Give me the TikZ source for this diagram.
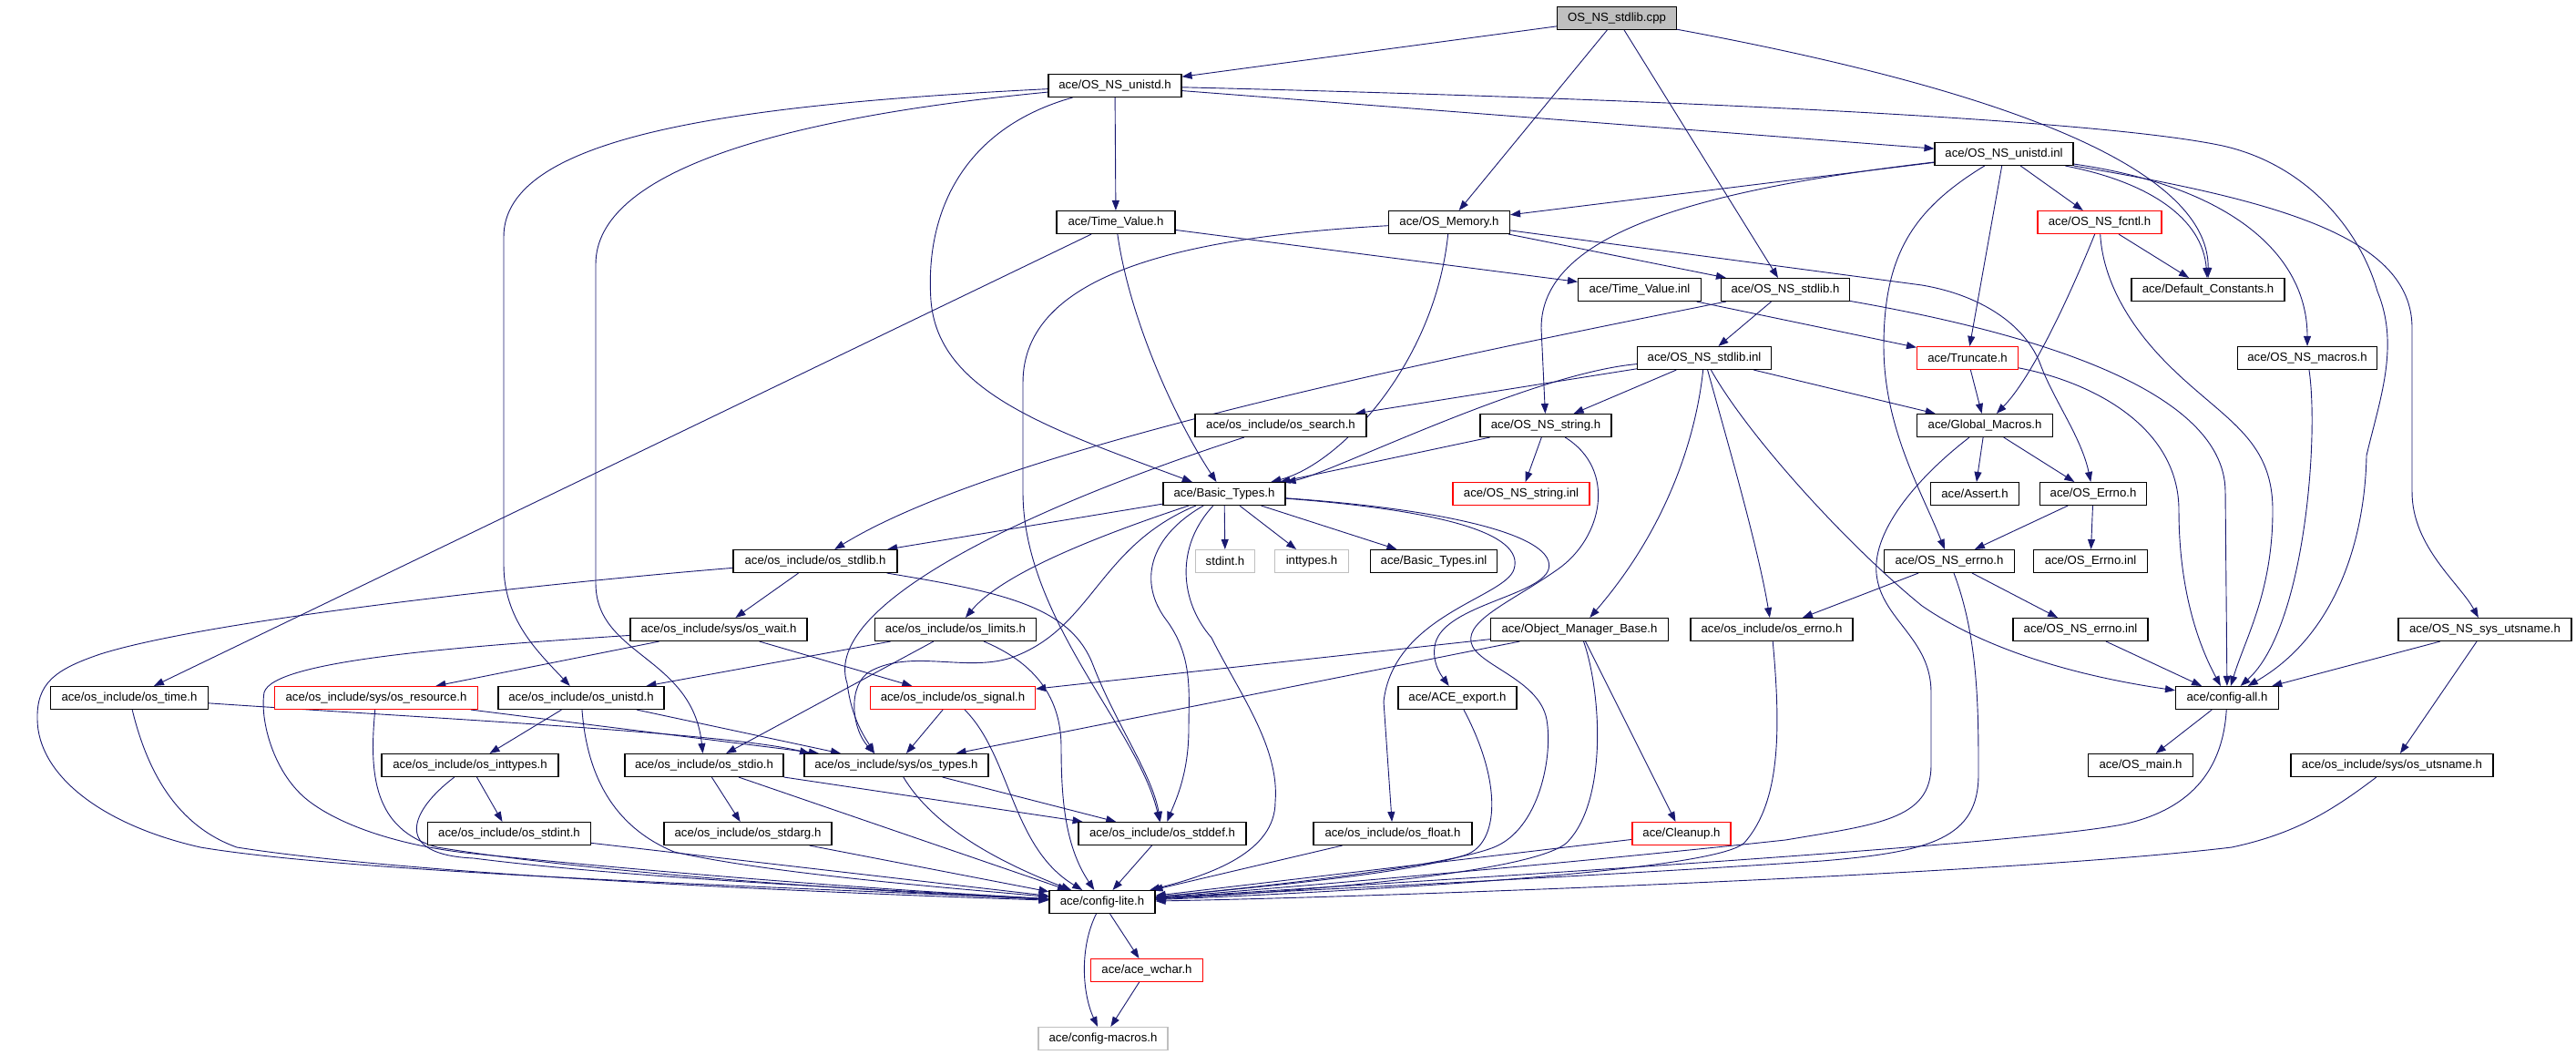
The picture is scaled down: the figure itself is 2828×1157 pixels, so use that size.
\documentclass[tikz,border=0pt]{standalone}
\usepackage{fontspec}
\setmainfont{Liberation Sans}
\usetikzlibrary{arrows.meta,backgrounds}
\definecolor{edgeblue}{HTML}{191970}
\definecolor{gbox}{HTML}{BFBFBF}
\begin{document}
\begin{tikzpicture}[x=1pt,y=-1pt,
  filebox/.style={draw=black,line width=1.1pt,minimum height=25pt,inner sep=0pt,fill=white,font=\fontsize{13.2pt}{15pt}\selectfont},
  redbox/.style={filebox,draw=red},
  graybox/.style={filebox,draw=gbox},
  dep/.style={draw=edgeblue,line width=0.9pt,-{Triangle[length=11pt,width=8pt]}}]
\useasboundingbox (0,0) rectangle (2828,1157);
% ---------- nodes ----------
\node[filebox,fill=gbox,minimum width=131pt] (cpp) at (1775,20) {OS\_NS\_stdlib.cpp};
\node[filebox,minimum width=146pt] (unih) at (1224,94) {ace/OS\_NS\_unistd.h};
\node[filebox,minimum width=152pt] (uniinl) at (2200,169) {ace/OS\_NS\_unistd.inl};
\node[filebox,minimum width=130pt] (tvh) at (1225,244) {ace/Time\_Value.h};
\node[filebox,minimum width=133pt] (mem) at (1591,244) {ace/OS\_Memory.h};
\node[redbox,minimum width=136pt] (fcntl) at (2305,244) {ace/OS\_NS\_fcntl.h};
\node[filebox,minimum width=135pt] (tvinl) at (1800,318) {ace/Time\_Value.inl};
\node[filebox,minimum width=141pt] (stdlibh) at (1960,318) {ace/OS\_NS\_stdlib.h};
\node[filebox,minimum width=168pt] (defc) at (2424,318) {ace/Default\_Constants.h};
\node[filebox,minimum width=147pt] (stdlibinl) at (1871,393) {ace/OS\_NS\_stdlib.inl};
\node[redbox,minimum width=111pt] (trunc) at (2160,393) {ace/Truncate.h};
\node[filebox,minimum width=153pt] (macros) at (2533,393) {ace/OS\_NS\_macros.h};
\node[filebox,minimum width=188pt] (search) at (1406,467) {ace/os\_include/os\_search.h};
\node[filebox,minimum width=144pt] (strh) at (1697,467) {ace/OS\_NS\_string.h};
\node[filebox,minimum width=149pt] (glob) at (2179,467) {ace/Global\_Macros.h};
\node[filebox,minimum width=134pt] (bt) at (1344,542) {ace/Basic\_Types.h};
\node[redbox,minimum width=150pt] (strinl) at (1670,542) {ace/OS\_NS\_string.inl};
\node[filebox,minimum width=97pt] (assert) at (2168,542) {ace/Assert.h};
\node[filebox,minimum width=117pt] (errnoh) at (2298,542) {ace/OS\_Errno.h};
\node[filebox,minimum width=180pt] (osstdlib) at (895,616) {ace/os\_include/os\_stdlib.h};
\node[graybox,minimum width=65pt] (stdint) at (1345,616) {stdint.h};
\node[graybox,minimum width=81pt] (inttypes) at (1440,616) {inttypes.h};
\node[filebox,minimum width=139pt] (btinl) at (1574,616) {ace/Basic\_Types.inl};
\node[filebox,minimum width=143pt] (nserrno) at (2140,616) {ace/OS\_NS\_errno.h};
\node[filebox,minimum width=125pt] (errnoinl) at (2295,616) {ace/OS\_Errno.inl};
\node[filebox,minimum width=194pt] (wait) at (789,691) {ace/os\_include/sys/os\_wait.h};
\node[filebox,minimum width=177pt] (limits) at (1049,691) {ace/os\_include/os\_limits.h};
\node[filebox,minimum width=195pt] (omb) at (1734,691) {ace/Object\_Manager\_Base.h};
\node[filebox,minimum width=178pt] (oserrno) at (1945,691) {ace/os\_include/os\_errno.h};
\node[filebox,minimum width=148pt] (nserrnoinl) at (2284,691) {ace/OS\_NS\_errno.inl};
\node[filebox,minimum width=190pt] (nsuts) at (2728,691) {ace/OS\_NS\_sys\_utsname.h};
\node[filebox,minimum width=173pt] (ostime) at (142,766) {ace/os\_include/os\_time.h};
\node[redbox,minimum width=223pt] (resource) at (413,766) {ace/os\_include/sys/os\_resource.h};
\node[filebox,minimum width=182pt] (osunistd) at (638,766) {ace/os\_include/os\_unistd.h};
\node[redbox,minimum width=181pt] (signal) at (1046,766) {ace/os\_include/os\_signal.h};
\node[filebox,minimum width=130pt] (export) at (1600,766) {ace/ACE\_export.h};
\node[filebox,minimum width=113pt] (cfgall) at (2445,766) {ace/config-all.h};
\node[filebox,minimum width=194pt] (inttypesh) at (516,840) {ace/os\_include/os\_inttypes.h};
\node[filebox,minimum width=174pt] (stdio) at (773,840) {ace/os\_include/os\_stdio.h};
\node[filebox,minimum width=202pt] (types) at (984,840) {ace/os\_include/sys/os\_types.h};
\node[filebox,minimum width=115pt] (osmain) at (2350,840) {ace/OS\_main.h};
\node[filebox,minimum width=222pt] (uts) at (2626,840) {ace/os\_include/sys/os\_utsname.h};
\node[filebox,minimum width=179pt] (stdinth) at (559,915) {ace/os\_include/os\_stdint.h};
\node[filebox,minimum width=184pt] (stdarg) at (821,915) {ace/os\_include/os\_stdarg.h};
\node[filebox,minimum width=184pt] (stddef) at (1276,915) {ace/os\_include/os\_stddef.h};
\node[filebox,minimum width=174pt] (float) at (1529,915) {ace/os\_include/os\_float.h};
\node[redbox,minimum width=108pt] (cleanup) at (1846,915) {ace/Cleanup.h};
\node[filebox,minimum width=116pt] (lite) at (1210,990) {ace/config-lite.h};
\node[redbox,minimum width=123pt] (wchar) at (1259,1065) {ace/ace\_wchar.h};
\node[graybox,minimum width=142pt] (macrosh) at (1211,1140) {ace/config-macros.h};
% ---------- edges ----------
\begin{pgfonlayer}{background}
\draw[dep] (cpp) -- (unih);
\draw[dep] (cpp) -- (mem);
\draw[dep] (cpp) -- (stdlibh);
\draw[dep] (cpp) .. controls (2260,110) and (2425,200) .. (defc);
\draw[dep] (unih) -- (uniinl);
\draw[dep] (unih) .. controls (1800,108) and (2300,130) .. (2440,160) .. controls (2530,180) and (2590,250) .. (2610,320) .. controls (2635,380) and (2612,440) .. (2598,500) .. controls (2596,600) and (2560,700) .. (cfgall);
\draw[dep] (unih) -- (tvh);
\draw[dep] (unih) .. controls (1060,140) and (1015,230) .. (1022,330) .. controls (1030,430) and (1150,470) .. (bt);
\draw[dep] (unih) .. controls (800,115) and (553,150) .. (553,260) -- (553,620) .. controls (553,680) and (590,715) .. (osunistd);
\draw[dep] (unih) .. controls (850,130) and (654,190) .. (654,290) -- (654,640) .. controls (654,720) and (760,720) .. (stdio);
\draw[dep] (uniinl) -- (mem);
\draw[dep] (uniinl) .. controls (1850,210) and (1692,260) .. (1692,360) -- (strh);
\draw[dep] (uniinl) .. controls (2100,230) and (2068,280) .. (2068,380) .. controls (2068,470) and (2110,540) .. (nserrno);
\draw[dep] (uniinl) -- (trunc);
\draw[dep] (uniinl) -- (fcntl);
\draw[dep] (uniinl) .. controls (2360,200) and (2418,240) .. (defc);
\draw[dep] (uniinl) .. controls (2450,205) and (2533,280) .. (macros);
\draw[dep] (uniinl) .. controls (2500,220) and (2648,260) .. (2648,360) -- (2648,540) .. controls (2648,600) and (2700,640) .. (nsuts);
\draw[dep] (tvh) -- (tvinl);
\draw[dep] (tvh) .. controls (1240,350) and (1290,460) .. (bt);
\draw[dep] (tvh) -- (ostime);
\draw[dep] (mem) -- (stdlibh);
\draw[dep] (mem) .. controls (1575,400) and (1470,510) .. (bt);
\draw[dep] (mem) .. controls (1300,260) and (1123,300) .. (1123,420) -- (1123,540) .. controls (1123,680) and (1250,800) .. (stddef);
\draw[dep] (mem) -- (2110,313) .. controls (2180,325) and (2225,360) .. (2240,400) .. controls (2255,440) and (2285,480) .. (errnoh);
\draw[dep] (fcntl) -- (defc);
\draw[dep] (fcntl) .. controls (2270,330) and (2230,415) .. (glob);
\draw[dep] (fcntl) .. controls (2308,300) and (2330,350) .. (2380,400) .. controls (2440,460) and (2495,480) .. (2495,560) .. controls (2495,650) and (2465,700) .. (cfgall);
\draw[dep] (tvinl) -- (trunc);
\draw[dep] (stdlibh) -- (stdlibinl);
\draw[dep] (stdlibh) .. controls (1600,390) and (1100,490) .. (osstdlib);
\draw[dep] (stdlibh) .. controls (2200,360) and (2443,420) .. (2443,540) -- (cfgall);
\draw[dep] (stdlibinl) -- (search);
\draw[dep] (stdlibinl) .. controls (1680,410) and (1460,520) .. (bt);
\draw[dep] (stdlibinl) -- (strh);
\draw[dep] (stdlibinl) -- (glob);
\draw[dep] (stdlibinl) .. controls (1862,480) and (1830,580) .. (omb);
\draw[dep] (stdlibinl) .. controls (1895,480) and (1930,600) .. (oserrno);
\draw[dep] (stdlibinl) .. controls (1920,480) and (2030,600) .. (2110,665) .. controls (2190,720) and (2300,745) .. (cfgall);
\draw[dep] (trunc) -- (glob);
\draw[dep] (trunc) .. controls (2300,420) and (2392,470) .. (2392,560) .. controls (2392,660) and (2420,720) .. (cfgall);
\draw[dep] (macros) .. controls (2546,480) and (2530,690) .. (cfgall);
\draw[dep] (search) .. controls (1150,550) and (900,660) .. (930,750) .. controls (935,790) and (950,810) .. ([xshift=-24pt]types.north);
\draw[dep] (strh) -- (bt);
\draw[dep] (strh) -- (strinl);
\draw[dep] (strh) .. controls (1775,515) and (1760,590) .. (1710,625) .. controls (1660,660) and (1610,680) .. (1615,705) .. controls (1620,730) and (1690,745) .. (1698,790) .. controls (1705,830) and (1690,910) .. (1640,930) .. controls (1590,950) and (1400,972) .. (lite);
\draw[dep] (glob) -- (assert);
\draw[dep] (glob) -- (errnoh);
\draw[dep] (glob) .. controls (2110,520) and (2055,580) .. (2060,630) .. controls (2065,680) and (2120,700) .. (2120,760) -- (2120,840) .. controls (2120,900) and (2060,905) .. (1960,922) .. controls (1700,950) and (1400,975) .. (lite);
\draw[dep] (errnoh) -- (nserrno);
\draw[dep] (errnoh) -- (errnoinl);
\draw[dep] (nserrno) -- (oserrno);
\draw[dep] (nserrno) -- (nserrnoinl);
\draw[dep] (nserrno) .. controls (2172,700) and (2172,780) .. (2172,850) .. controls (2172,920) and (2120,935) .. (2000,945) .. controls (1700,965) and (1400,978) .. (lite);
\draw[dep] (nserrnoinl) -- (cfgall);
\draw[dep] (nsuts) -- (cfgall);
\draw[dep] (nsuts) -- (uts);
\draw[dep] (uts) .. controls (2560,890) and (2520,915) .. (2450,930) .. controls (2200,960) and (1500,985) .. (lite);
\draw[dep] (cfgall) -- (osmain);
\draw[dep] (cfgall) .. controls (2440,850) and (2400,890) .. (2330,905) .. controls (2200,930) and (1500,970) .. (lite);
\draw[dep] (omb) -- (signal);
\draw[dep] (omb) -- (types);
\draw[dep] (omb) .. controls (1758,760) and (1765,880) .. (1720,925) .. controls (1680,960) and (1400,980) .. (lite);
\draw[dep] (omb) -- (cleanup);
\draw[dep] (oserrno) .. controls (1955,800) and (1955,880) .. (1915,925) .. controls (1880,960) and (1400,982) .. (lite);
\draw[dep] (export) .. controls (1650,860) and (1645,925) .. (1610,938) .. controls (1550,958) and (1400,972) .. (lite);
\draw[dep] (float) -- (lite);
\draw[dep] (cleanup) -- (lite);
\draw[dep] (bt) -- (osstdlib);
\draw[dep] (bt) .. controls (1200,590) and (1100,630) .. (limits);
\draw[dep] (bt) .. controls (1205,600) and (1200,690) .. (1110,722) .. controls (1060,738) and (1000,712) .. (955,737) .. controls (930,752) and (935,800) .. ([xshift=-24pt]types.north);
\draw[dep] (bt) .. controls (1260,590) and (1250,640) .. (1280,680) .. controls (1310,720) and (1305,760) .. (1305,800) .. controls (1305,850) and (1290,880) .. (stddef);
\draw[dep] (bt) .. controls (1290,600) and (1295,660) .. (1330,700) .. controls (1360,760) and (1405,820) .. (1400,880) .. controls (1400,935) and (1330,960) .. (lite);
\draw[dep] (bt) -- (stdint);
\draw[dep] (bt) -- (inttypes);
\draw[dep] (bt) -- (btinl);
\draw[dep] (bt) .. controls (1600,560) and (1710,590) .. (1700,625) .. controls (1690,655) and (1580,665) .. (1575,710) .. controls (1572,730) and (1585,745) .. (export);
\draw[dep] (bt) .. controls (1580,560) and (1675,585) .. (1662,625) .. controls (1652,656) and (1530,675) .. (1519,770) -- (float);
\draw[dep] (osstdlib) -- (wait);
\draw[dep] (osstdlib) .. controls (1100,650) and (1175,665) .. (1200,730) .. controls (1225,795) and (1265,850) .. (stddef);
\draw[dep] (osstdlib) .. controls (600,640) and (230,680) .. (110,718) .. controls (60,735) and (40,750) .. (41,790) .. controls (42,850) and (110,905) .. (220,930) .. controls (400,960) and (900,975) .. (lite);
\draw[dep] (wait) -- (resource);
\draw[dep] (wait) -- (signal);
\draw[dep] (wait) .. controls (500,710) and (300,725) .. (290,760) .. controls (285,790) and (300,850) .. (340,880) .. controls (380,910) and (450,930) .. (520,937) .. controls (800,965) and (1000,978) .. (lite);
\draw[dep] (limits) -- (osunistd);
\draw[dep] (limits) -- (stdio);
\draw[dep] (limits) .. controls (1130,725) and (1165,760) .. (1165,820) .. controls (1165,880) and (1170,930) .. (lite);
\draw[dep] (ostime) .. controls (500,790) and (800,805) .. ([xshift=-95pt]types.north);
\draw[dep] (ostime) .. controls (160,840) and (190,905) .. (260,930) .. controls (450,960) and (900,980) .. (lite);
\draw[dep] (resource) -- ([xshift=-85pt]types.north);
\draw[dep] (resource) .. controls (405,850) and (410,910) .. (480,930) .. controls (650,958) and (950,978) .. (lite);
\draw[dep] (osunistd) -- (types);
\draw[dep] (osunistd) -- (inttypesh);
\draw[dep] (osunistd) .. controls (645,860) and (680,910) .. (740,935) .. controls (850,960) and (1050,975) .. (lite);
\draw[dep] (signal) -- (types);
\draw[dep] (signal) .. controls (1110,830) and (1110,930) .. (lite);
\draw[dep] (inttypesh) -- (stdinth);
\draw[dep] (inttypesh) .. controls (450,890) and (430,938) .. (520,942) .. controls (700,965) and (1000,978) .. (lite);
\draw[dep] (stdinth) -- (lite);
\draw[dep] (stdio) -- (stdarg);
\draw[dep] (stdio) -- (lite);
\draw[dep] (stdio) -- (stddef);
\draw[dep] (types) -- (stddef);
\draw[dep] (types) .. controls (1020,900) and (1080,940) .. (lite);
\draw[dep] (stdarg) -- (lite);
\draw[dep] (stddef) -- (lite);
\draw[dep] (lite) -- (wchar);
\draw[dep] (lite) .. controls (1185,1040) and (1188,1090) .. (macrosh);
\draw[dep] (wchar) -- (macrosh);
\end{pgfonlayer}
\end{tikzpicture}
\end{document}
